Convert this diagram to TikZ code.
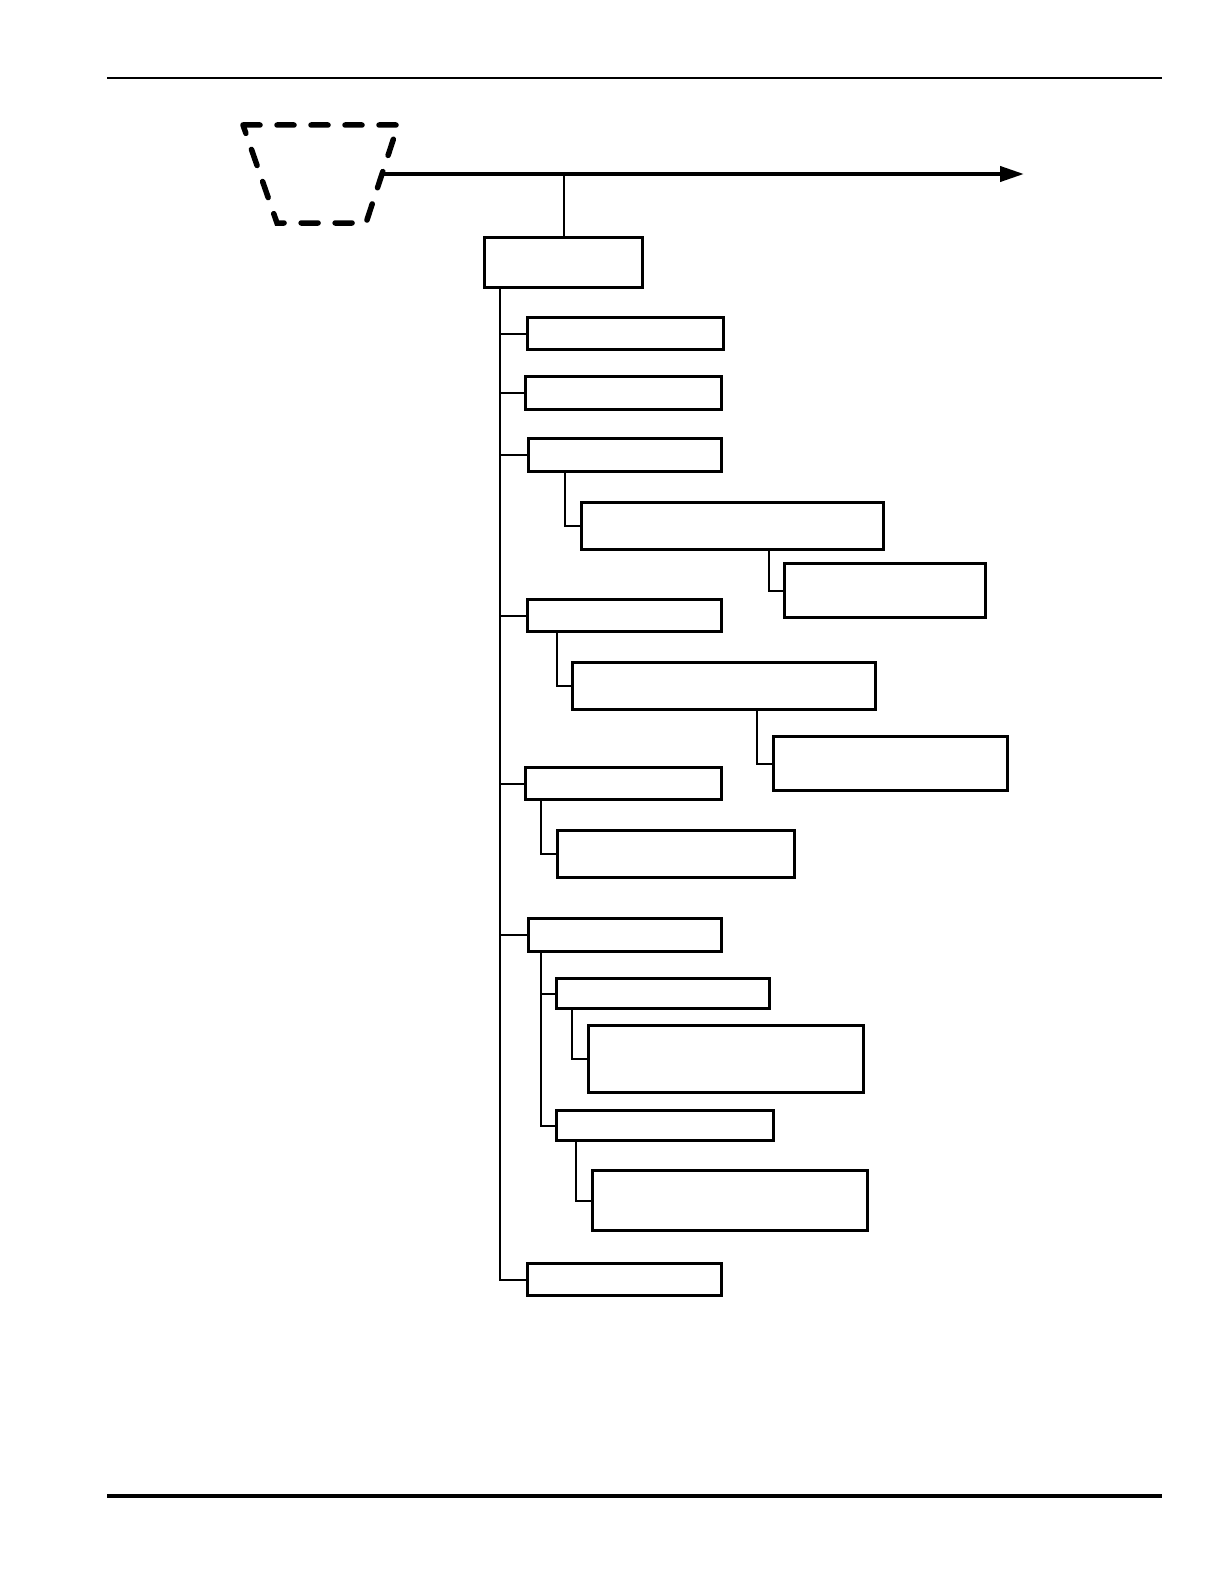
\documentclass[tikz,border=0pt]{standalone}
\usepackage{tikz}
\usetikzlibrary{arrows.meta,positioning,calc}
\tikzset{
    %Define standard arrow tip
    >={Triangle[length=12pt,width=7.5pt]},
    % Define arrow style
    pil/.style={
           ->,
           line width=2pt},
    % Define style for tree links
    link/.style={
           line width=1pt}
}

\begin{document}
\begin{tikzpicture}[x=0.5pt, y=-0.5pt]
	\tikzstyle{box} = [rectangle, draw, line width=1.5pt, inner sep=0pt, anchor=north west]

	\useasboundingbox (0,0) rectangle (1224,1584);

	% page rules
	\draw[line width=1pt] (107,78) -- (1162,78);
	\draw[line width=2pt] (107,1496) -- (1162,1496);

	% dashed start shape
	\draw[line width=2.75pt, dash pattern=on 8.5pt off 8.5pt, line cap=round]
	     (243,125) -- (398,125) -- (366,223) -- (277,223) -- cycle;
	\coordinate (start) at (383,174);
	\coordinate (end) at (1024,174);
	\draw[pil] (start) -- (end);

	% root
	\node[box, minimum width=79pt, minimum height=25pt] (root) at (483,236) {};
	\draw[link] (root.north) -- (root.north |- start);

	% first level
	\node[box, minimum width=98pt, minimum height=16pt] (ident) at (526,316) {};
	\node[box, minimum width=98pt, minimum height=16.5pt] (scope) at (524,375) {};
	\node[box, minimum width=96.5pt, minimum height=16.5pt] (inputs) at (527,437) {};
	\node[box, minimum width=97pt, minimum height=16pt] (outputs) at (526,598) {};
	\node[box, minimum width=98pt, minimum height=16pt] (controls) at (524,766) {};
	\node[box, minimum width=96.5pt, minimum height=16.5pt] (resources) at (527,917) {};
	\node[box, minimum width=97pt, minimum height=16pt] (records) at (526,1262) {};

	% second level
	\node[box, minimum width=151pt, minimum height=23.5pt] (inputsrc) at (580,501) {};
	\node[box, minimum width=100.5pt, minimum height=27pt] (inputsup) at (783,562) {};
	\node[box, minimum width=151.5pt, minimum height=23.5pt] (outputdst) at (571,661) {};
	\node[box, minimum width=117pt, minimum height=27pt] (outputcus) at (772,735) {};
	\node[box, minimum width=118.5pt, minimum height=23.5pt] (ctrlref) at (556,829) {};
	\node[box, minimum width=106.5pt, minimum height=15pt] (people) at (555,977) {};
	\node[box, minimum width=137.5pt, minimum height=33.5pt] (roles) at (587,1024) {};
	\node[box, minimum width=108.5pt, minimum height=15pt] (tools) at (555,1109) {};
	\node[box, minimum width=137.5pt, minimum height=30pt] (equip) at (591,1169) {};

	% trunk
	\coordinate (trunk) at (500,0);
	\draw[link] (root.south -| trunk) |- (records.west);
	\foreach \n in {ident,scope,inputs,outputs,controls,resources}
	    \draw[link] (\n.west -| trunk) -- (\n.west);

	% branches
	\draw[link] ([xshift=19pt]inputs.south west) |- (inputsrc.west);
	\draw[link] ([xshift=-7pt]inputsup.west |- inputsrc.south) |- (inputsup.west);
	\draw[link] ([xshift=15.5pt]outputs.south west) |- (outputdst.west);
	\draw[link] ([xshift=-7.5pt]outputcus.west |- outputdst.south) |- (outputcus.west);
	\draw[link] ([xshift=8.5pt]controls.south west) |- (ctrlref.west);
	\draw[link] ([xshift=7pt]resources.south west) |- (tools.west);
	\draw[link] ([xshift=7pt]resources.south west |- people.west) -- (people.west);
	\draw[link] ([xshift=-7.5pt]roles.west |- people.south) |- (roles.west);
	\draw[link] ([xshift=-7.5pt]equip.west |- tools.south) |- (equip.west);

\end{tikzpicture}
\end{document}
